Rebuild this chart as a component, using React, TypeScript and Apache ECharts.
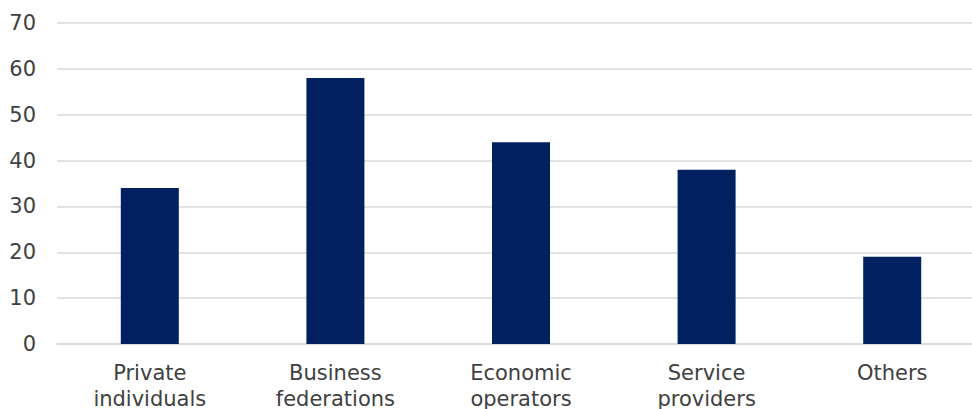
import React, { useEffect, useRef } from "react";
import * as echarts from "echarts";

const categories = ["Private\nindividuals", "Business\nfederations", "Economic\noperators", "Service\nproviders", "Others"];
const values = [34, 58, 44, 38, 19];
const yTicks = { min: 0, max: 70, interval: 10 };

export default function App() {
  const ref = useRef<HTMLDivElement>(null);
  useEffect(() => {
    const chart = echarts.init(ref.current!, null, { renderer: "svg" });
    chart.setOption({
      animation: false,
      grid: { left: 57, right: 0, top: 23, bottom: 65, containLabel: false, outerBoundsMode: "none" },
      xAxis: {
        type: "category",
        data: categories,
        axisTick: { show: false },
        axisLine: { show: true, lineStyle: { color: "#d9d9d9", width: 1.5 } },
        axisLabel: {
          color: "#404040",
          fontFamily: "DejaVu Sans",
          fontSize: 21,
          lineHeight: 26,
          margin: 16,
          interval: 0,
        },
      },
      yAxis: {
        type: "value",
        min: yTicks.min,
        max: yTicks.max,
        interval: yTicks.interval,
        axisLine: { show: false },
        axisTick: { show: false },
        splitLine: { lineStyle: { color: "#d9d9d9", width: 1.5 } },
        axisLabel: {
          color: "#404040",
          fontFamily: "DejaVu Sans",
          fontSize: 21,
          margin: 21,
        },
      },
      series: [
        {
          type: "bar",
          data: values,
          barWidth: 58,
          itemStyle: { color: "#002060" },
        },
      ],
    });
    return () => chart.dispose();
  }, []);
  return (
    <div style={{ width: 972, height: 409, position: "absolute", left: 0, top: 0, overflow: "hidden" }}>
      <div ref={ref} style={{ width: 985, height: 409 }} />
    </div>
  );
}
